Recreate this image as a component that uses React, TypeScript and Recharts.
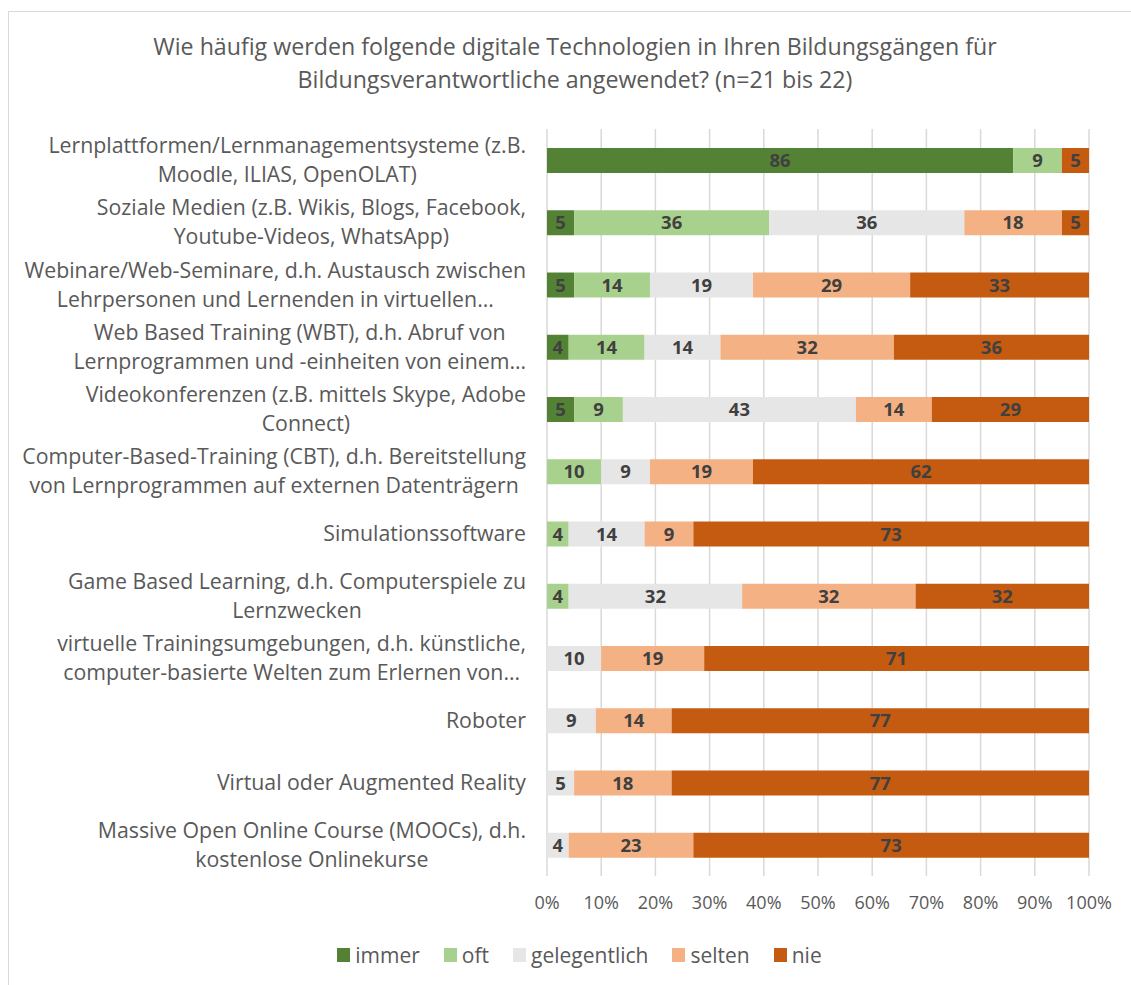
import React from 'react';
import {
  BarChart,
  Bar,
  XAxis,
  YAxis,
  CartesianGrid,
  LabelList,
  Legend,
} from 'recharts';

const TITLE = [
  'Wie häufig werden folgende digitale Technologien in Ihren Bildungsgängen für',
  'Bildungsverantwortliche angewendet? (n=21 bis 22)',
];

const categories = [
  'Lernplattformen/Lernmanagementsysteme (z.B.\nMoodle, ILIAS, OpenOLAT)',
  'Soziale Medien (z.B. Wikis, Blogs, Facebook,\nYoutube-Videos, WhatsApp)',
  'Webinare/Web-Seminare, d.h. Austausch zwischen\nLehrpersonen und Lernenden in virtuellen…',
  'Web Based Training (WBT), d.h. Abruf von\nLernprogrammen und -einheiten von einem…',
  'Videokonferenzen (z.B. mittels Skype, Adobe\nConnect)',
  'Computer-Based-Training (CBT), d.h. Bereitstellung\nvon Lernprogrammen auf externen Datenträgern',
  'Simulationssoftware',
  'Game Based Learning, d.h. Computerspiele zu\nLernzwecken',
  'virtuelle Trainingsumgebungen, d.h. künstliche,\ncomputer-basierte Welten zum Erlernen von…',
  'Roboter',
  'Virtual oder Augmented Reality',
  'Massive Open Online Course (MOOCs), d.h.\nkostenlose Onlinekurse',
];

const immer = [86, 5, 5, 4, 5, 0, 0, 0, 0, 0, 0, 0];
const oft = [9, 36, 14, 14, 9, 10, 4, 4, 0, 0, 0, 0];
const gelegentlich = [0, 36, 19, 14, 43, 9, 14, 32, 10, 9, 5, 4];
const selten = [0, 18, 29, 32, 14, 19, 9, 32, 19, 14, 18, 23];
const nie = [5, 5, 33, 36, 29, 62, 73, 32, 71, 77, 77, 73];

const xTicks = [0, 10, 20, 30, 40, 50, 60, 70, 80, 90, 100];

const SERIES = [
  { key: 'immer', color: '#548235', values: immer },
  { key: 'oft', color: '#A9D18E', values: oft },
  { key: 'gelegentlich', color: '#E7E6E6', values: gelegentlich },
  { key: 'selten', color: '#F4B183', values: selten },
  { key: 'nie', color: '#C55A11', values: nie },
];

const data = categories.map((name, i) => {
  const row: Record<string, string | number> = { name };
  SERIES.forEach((s) => {
    row[s.key] = s.values[i];
  });
  return row;
});

const FONT = '"Open Sans", Lato, sans-serif';
const LABEL_SIZE = 21.3;
const TEXT = '#595959';

let ctx: CanvasRenderingContext2D | null = null;
const measure = (text: string) => {
  if (!ctx) ctx = document.createElement('canvas').getContext('2d');
  if (!ctx) return text.length * 10;
  ctx.font = `${LABEL_SIZE}px ${FONT}`;
  return ctx.measureText(text).width;
};

const CategoryTick = ({ y, payload }: any) => {
  const lines = String(payload.value).split('\n');
  const w = Math.max(...lines.map(measure));
  const cx = 526 - w / 2;
  const lh = 29;
  const y0 = y - ((lines.length - 1) * lh) / 2;
  return (
    <text
      textAnchor='middle'
      fill={TEXT}
      fontSize={LABEL_SIZE}
      fontFamily={FONT}
    >
      {lines.map((l, i) => (
        <tspan key={i} x={cx} y={y0 + i * lh} dy='0.35em'>
          {l}
        </tspan>
      ))}
    </text>
  );
};

const ValueLabel = ({ x, y, width, height, value }: any) => {
  if (!value) return null;
  return (
    <text
      x={x + width / 2}
      y={y + height / 2}
      dy='0.36em'
      textAnchor='middle'
      fill='#404040'
      fontSize={18.5}
      fontWeight='bold'
      fontFamily={FONT}
    >
      {value}
    </text>
  );
};

const LegendContent = () => (
  <div
    style={{
      display: 'flex',
      justifyContent: 'center',
      alignItems: 'center',
      height: 26,
      fontFamily: FONT,
      fontSize: 21,
      color: TEXT,
      paddingLeft: 28,
    }}
  >
    {SERIES.map((s, i) => (
      <div
        key={s.key}
        style={{
          display: 'flex',
          alignItems: 'center',
          marginRight: i === SERIES.length - 1 ? 0 : 24,
        }}
      >
        <span
          style={{
            width: 13,
            height: 14,
            background: s.color,
            marginRight: 5,
            display: 'inline-block',
          }}
        />
        <span>{s.key}</span>
      </div>
    ))}
  </div>
);

const App = () => {
  return (
    <div
      style={{
        position: 'absolute',
        left: 0,
        top: 0,
        width: 1131,
        height: 985,
        overflow: 'hidden',
        background: '#fff',
      }}
    >
      <div
        style={{
          position: 'absolute',
          left: 8,
          top: 11,
          width: 1140,
          height: 1000,
          borderTop: '1px solid #d9d9d9',
          borderLeft: '1px solid #d9d9d9',
        }}
      />
      <div
        style={{
          position: 'absolute',
          left: 0,
          top: 30,
          width: 1150,
          textAlign: 'center',
          fontFamily: FONT,
          fontSize: 23.2,
          lineHeight: '33px',
          color: TEXT,
        }}
      >
        {TITLE.map((t) => (
          <div key={t}>{t}</div>
        ))}
      </div>
      <BarChart
        width={1131}
        height={985}
        data={data}
        layout='vertical'
        margin={{ top: 129, right: 42, left: 27, bottom: 53 }}
        style={{ position: 'absolute', left: 0, top: 0 }}
      >
        <CartesianGrid horizontal={false} stroke='#d9d9d9' strokeWidth={1.5} />
        <XAxis
          type='number'
          domain={[0, 100]}
          ticks={xTicks}
          tickFormatter={(v) => `${v}%`}
          axisLine={false}
          tickLine={false}
          tickMargin={14}
          height={30}
          tick={{ fill: TEXT, fontSize: 18, fontFamily: FONT }}
          interval={0}
        />
        <YAxis
          type='category'
          dataKey='name'
          width={520}
          axisLine={false}
          tickLine={false}
          interval={0}
          tick={<CategoryTick />}
        />
        <Legend
          verticalAlign='bottom'
          content={<LegendContent />}
          wrapperStyle={{ top: 942, bottom: 'auto', left: 0, width: 1131 }}
        />
        {SERIES.map((s) => (
          <Bar
            key={s.key}
            dataKey={s.key}
            stackId='a'
            fill={s.color}
            barSize={25}
            isAnimationActive={false}
          >
            <LabelList dataKey={s.key} content={<ValueLabel />} />
          </Bar>
        ))}
      </BarChart>
    </div>
  );
};

export default App;
